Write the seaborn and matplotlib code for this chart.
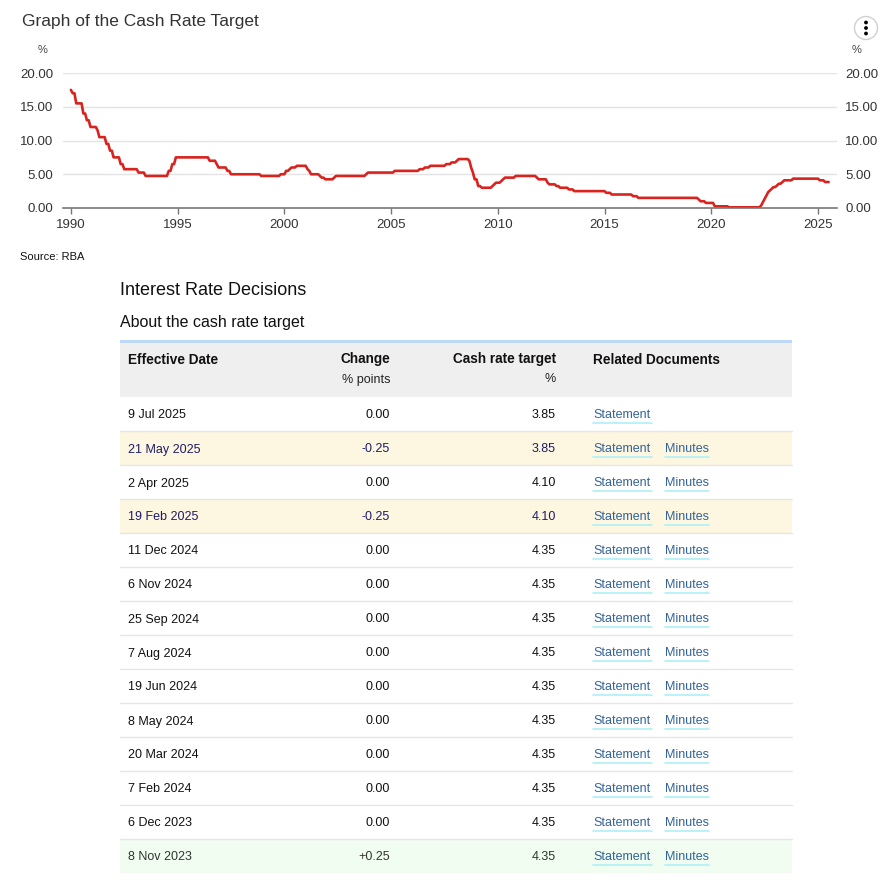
import pandas as pd
import numpy as np
import matplotlib
matplotlib.use("Agg")
import matplotlib.pyplot as plt
import seaborn as sns
from matplotlib.patches import Rectangle, Circle

# Cash rate target: dates of change and new rate (%)
change_dates = [
    "1990-01-01", "1990-02-15", "1990-04-04", "1990-08-02", "1990-10-15", "1990-12-18",
    "1991-04-04", "1991-05-16", "1991-09-03", "1991-11-06", "1992-01-08", "1992-05-06",
    "1992-07-08", "1993-03-23", "1993-07-30", "1994-08-17", "1994-10-24", "1994-12-14",
    "1996-07-31", "1996-11-06", "1996-12-11", "1997-05-23", "1997-07-30", "1998-12-02",
    "1999-11-03", "2000-02-02", "2000-04-05", "2000-05-03", "2000-08-02", "2001-02-07",
    "2001-03-07", "2001-04-04", "2001-09-05", "2001-10-03", "2001-12-05", "2002-05-08",
    "2002-06-05", "2003-11-05", "2003-12-03", "2005-03-02", "2006-05-03", "2006-08-02",
    "2006-11-08", "2007-08-08", "2007-11-07", "2008-02-06", "2008-03-05", "2008-09-03",
    "2008-10-08", "2008-11-05", "2008-12-03", "2009-02-04", "2009-04-08", "2009-10-07",
    "2009-11-04", "2009-12-02", "2010-03-03", "2010-04-07", "2010-05-05", "2010-11-03",
    "2011-11-02", "2011-12-07", "2012-05-02", "2012-06-06", "2012-10-03", "2012-12-05",
    "2013-05-08", "2013-08-07", "2015-02-04", "2015-05-06", "2016-05-04", "2016-08-03",
    "2019-06-05", "2019-07-03", "2019-10-02", "2020-03-04", "2020-03-20", "2020-11-04",
    "2022-05-04", "2022-06-08", "2022-07-06", "2022-08-03", "2022-09-07", "2022-10-05",
    "2022-11-02", "2022-12-07", "2023-02-08", "2023-03-08", "2023-05-03", "2023-06-07",
    "2023-11-08", "2025-02-19", "2025-05-21", "2025-07-09",
]
cash_rates = [
    17.50, 17.00, 15.50, 14.00, 13.00, 12.00,
    11.50, 10.50, 9.50, 8.50, 7.50, 6.50,
    5.75, 5.25, 4.75, 5.50, 6.50, 7.50,
    7.00, 6.50, 6.00, 5.50, 5.00, 4.75,
    5.00, 5.50, 5.75, 6.00, 6.25, 5.75,
    5.50, 5.00, 4.75, 4.50, 4.25, 4.50,
    4.75, 5.00, 5.25, 5.50, 5.75, 6.00,
    6.25, 6.50, 6.75, 7.00, 7.25, 7.00,
    6.00, 5.25, 4.25, 3.25, 3.00, 3.25,
    3.50, 3.75, 4.00, 4.25, 4.50, 4.75,
    4.50, 4.25, 3.75, 3.50, 3.25, 3.00,
    2.75, 2.50, 2.25, 2.00, 1.75, 1.50,
    1.25, 1.00, 0.75, 0.50, 0.25, 0.10,
    0.35, 0.85, 1.35, 1.85, 2.35, 2.60,
    2.85, 3.10, 3.35, 3.60, 3.85, 4.10,
    4.35, 4.10, 3.85, 3.85,
]

y_ticks = [0, 5, 10, 15, 20]
x_ticks = [1990, 1995, 2000, 2005, 2010, 2015, 2020, 2025]

# Table of recent decisions
eff_dates = ["9 Jul 2025", "21 May 2025", "2 Apr 2025", "19 Feb 2025", "11 Dec 2024",
             "6 Nov 2024", "25 Sep 2024", "7 Aug 2024", "19 Jun 2024", "8 May 2024",
             "20 Mar 2024", "7 Feb 2024", "6 Dec 2023", "8 Nov 2023"]
changes = ["0.00", "-0.25", "0.00", "-0.25", "0.00", "0.00", "0.00", "0.00", "0.00",
           "0.00", "0.00", "0.00", "0.00", "+0.25"]
targets = ["3.85", "3.85", "4.10", "4.10", "4.35", "4.35", "4.35", "4.35", "4.35",
           "4.35", "4.35", "4.35", "4.35", "4.35"]
has_minutes = [False] + [True] * 13

# monthly series, forward filled
s = pd.Series(cash_rates, index=pd.to_datetime(change_dates))
monthly = s.resample("MS").last().ffill()
df = pd.DataFrame({
    "year": monthly.index.year + (monthly.index.month - 1) / 12,
    "rate": monthly.values,
})

sns.set_theme(style="white")
plt.rcParams["font.family"] = ["Liberation Sans", "DejaVu Sans"]

W, H = 894, 883
fig = plt.figure(figsize=(W / 100, H / 100), dpi=100)

# overlay in pixel coordinates for texts and the table
ov = fig.add_axes([0, 0, 1, 1])
ov.set_xlim(0, W)
ov.set_ylim(H, 0)
ov.axis("off")

# chart
ax = fig.add_axes([63 / W, 1 - 208 / H, (837 - 63) / W, (208 - 73) / H])
sns.lineplot(data=df, x="year", y="rate", ax=ax, color="#d8231e", linewidth=1.9)
ax.set_xlim(1989.63, 2025.89)
ax.set_ylim(0, 20)
ax.set_yticks(y_ticks)
ax.set_yticklabels([f"{v:.2f}" for v in y_ticks])
ax.set_xticks(x_ticks)
ax.set_xlabel("")
ax.set_ylabel("")
for sp in ["top", "left", "right"]:
    ax.spines[sp].set_visible(False)
ax.spines["bottom"].set_color("#777777")
ax.spines["bottom"].set_linewidth(1.2)
for v in y_ticks[1:]:
    ax.axhline(v, color="#e3e3e3", linewidth=1, zorder=0)
ax.tick_params(axis="y", length=0, pad=7, labelsize=9.5, labelcolor="#333333")
ax.tick_params(axis="x", bottom=True, length=4, width=1, color="#777777",
               pad=4, labelsize=9.5, labelcolor="#333333")
ax.patch.set_alpha(0)

ax2 = ax.twinx()
ax2.set_ylim(0, 20)
ax2.set_yticks(y_ticks)
ax2.set_yticklabels([f"{v:.2f}" for v in y_ticks])
for sp in ax2.spines.values():
    sp.set_visible(False)
ax2.tick_params(axis="y", length=0, pad=6, labelsize=9.5, labelcolor="#333333")
ax2.grid(False)

ov.text(22, 26, "Graph of the Cash Rate Target", fontsize=12.5, color="#333333", va="baseline")
ov.text(43, 53, "%", fontsize=8, color="#444444", ha="center", va="baseline")
ov.text(857, 53, "%", fontsize=8, color="#444444", ha="center", va="baseline")
ov.text(20, 259.5, "Source: RBA", fontsize=8, color="#111111", va="baseline")

# menu icon
ov.add_patch(Circle((866, 28), 11.5, facecolor="white", edgecolor="#d0d0d0", linewidth=1))
for dy in [-5.5, 0, 5.5]:
    ov.add_patch(Circle((866, 28 + dy), 1.9, facecolor="black", edgecolor="none"))

# table
ov.text(120, 295, "Interest Rate Decisions", fontsize=13, color="#111111", va="baseline")
ov.text(120, 327.5, "About the cash rate target", fontsize=11.5, color="#111111", va="baseline")

tx0, tx1 = 120, 792
base = 4.5
ov.add_patch(Rectangle((tx0, 340), tx1 - tx0, 3, facecolor="#bcdaf7", edgecolor="none"))
ov.add_patch(Rectangle((tx0, 343), tx1 - tx0, 54, facecolor="#efefef", edgecolor="none"))
hdr = dict(fontsize=9.8, fontweight="bold", color="#111111", va="baseline")
ov.text(128, 359 + base, "Effective Date", ha="left", **hdr)
ov.text(390, 359 + base, "Change", ha="right", **hdr)
ov.text(556, 359 + base, "Cash rate target", ha="right", **hdr)
ov.text(593, 359 + base, "Related Documents", ha="left", **hdr)
ov.text(390, 378 + base, "% points", ha="right", fontsize=9, color="#222222", va="baseline")
ov.text(556, 378 + base, "%", ha="right", fontsize=9, color="#222222", va="baseline")

row_h = 34
link_col = "#33639a"
n_rows = len(eff_dates)
for i, (d, c, t, m) in enumerate(zip(eff_dates, changes, targets, has_minutes)):
    top = 397 + row_h * i
    yc = top + row_h / 2
    yb = yc + base
    if c.startswith("-"):
        bg, fg = "#fdf6e0", "#1c1c6a"
    elif c.startswith("+"):
        bg, fg = "#f0fdf0", "#333333"
    else:
        bg, fg = "white", "#111111"
    ov.add_patch(Rectangle((tx0, top), tx1 - tx0, row_h, facecolor=bg, edgecolor="none"))
    if i < n_rows - 1:
        ov.plot([tx0, tx1], [top + row_h, top + row_h], color="#e6e6e6", linewidth=1)
    ov.text(128, yb, d, fontsize=9, color=fg, va="baseline", ha="left")
    ov.text(390, yb, c, fontsize=9, color=fg, va="baseline", ha="right")
    ov.text(556, yb, t, fontsize=9, color=fg, va="baseline", ha="right")
    ov.text(593, yb, "Statement", fontsize=9, color=link_col, va="baseline", ha="left")
    ov.plot([593, 652], [yc + 9, yc + 9], color="#aef0f6", linewidth=1.2)
    if m:
        ov.text(665, yb, "Minutes", fontsize=9, color=link_col, va="baseline", ha="left")
        ov.plot([665, 709], [yc + 9, yc + 9], color="#aef0f6", linewidth=1.2)

fig.savefig("out.png", dpi=100)
